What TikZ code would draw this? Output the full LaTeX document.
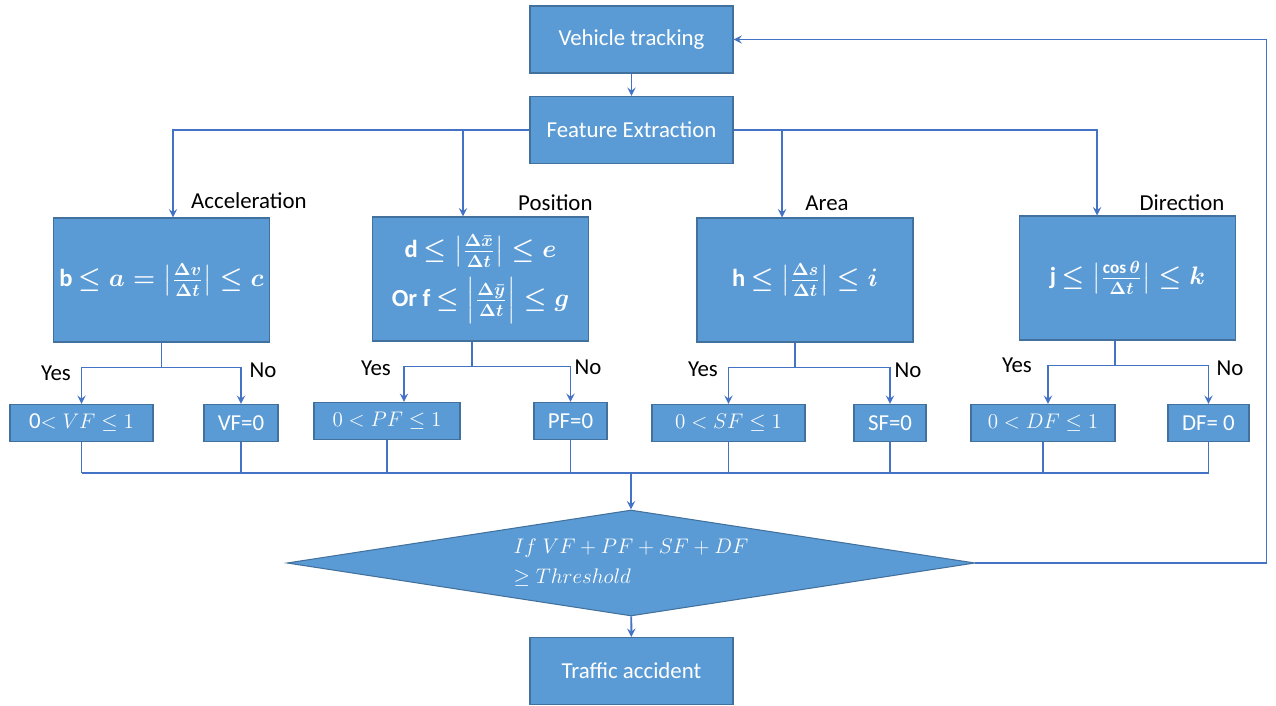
\documentclass[tikz,border=0pt]{standalone}
\usepackage{fontspec}
\setmainfont{Carlito}
\usepackage{amsmath}
\usetikzlibrary{arrows,shapes.geometric}

\definecolor{boxblue}{RGB}{91,155,213}
\definecolor{boxedge}{RGB}{65,113,156}
\definecolor{linkblue}{RGB}{68,114,196}

% |num/den| as printed in the test boxes
\newcommand{\ratio}[2]{\left|\frac{#1}{#2}\right|}

\tikzset{
    box/.style={rectangle, draw=boxedge, fill=boxblue, text=white, line width=0.6pt,
        inner sep=2pt, font=\fontsize{13}{16}\selectfont},
    stage/.style={box, minimum width=4.06cm, minimum height=1.34cm},
    test/.style={box, minimum width=4.32cm, minimum height=2.48cm, align=center,
        font=\fontsize{14}{28}\selectfont\bfseries\boldmath},
    score/.style={box, minimum height=0.74cm},
    cond/.style={diamond, draw=boxedge, fill=boxblue, text=white, line width=0.6pt,
        minimum width=13.76cm, minimum height=2.12cm, aspect=6.5, inner sep=0pt,
        align=left, font=\fontsize{13}{17}\selectfont},
    lbl/.style={font=\fontsize{13}{16}\selectfont},
    link/.style={draw=linkblue, line width=1.1pt},
    arr/.style={link, -stealth},
}

\begin{document}
\begin{tikzpicture}[x=0.02cm, y={(0cm,-0.02cm)}]
\useasboundingbox (0,0) rectangle (1276,706);

% main chain
\node[stage] (vt) at (631.5,39.5) {Vehicle tracking};
\node[stage] (fe) at (631.5,130) {Feature Extraction};

% feature tests
\node[test] (b1) at (161.5,280) {b $\leq a=\ratio{\Delta v}{\Delta t}\leq c$};
\node[test] (b2) at (480.5,279) {d $\leq\ratio{\Delta\bar{x}}{\Delta t}\leq e$\\
    Or f $\leq\ratio{\Delta\bar{y}}{\Delta t}\leq g$};
\node[test] (b3) at (805,280) {h $\leq\ratio{\Delta s}{\Delta t}\leq i$};
\node[test] (b4) at (1127.5,278) {j $\leq\ratio{\cos\theta}{\Delta t}\leq k$};

\node[lbl, anchor=west] (lacc) at (185,201) {Acceleration};
\node[lbl, anchor=west] (lpos) at (512,203) {Position};
\node[lbl] (lare) at (827,203) {Area};
\node[lbl] (ldir) at (1182,203) {Direction};

% scores
\node[score, minimum width=2.86cm] (y1) at (81.5,423) {0$<VF\leq 1$};
\node[score, minimum width=1.48cm] (n1) at (241,423) {VF=0};
\node[score, minimum width=2.92cm] (y2) at (387,421) {$0<PF\leq 1$};
\node[score, minimum width=1.46cm] (n2) at (570.5,421) {PF=0};
\node[score, minimum width=3.06cm] (y3) at (728.5,423) {$0<SF\leq 1$};
\node[score, minimum width=1.44cm] (n3) at (890,423) {SF=0};
\node[score, minimum width=2.88cm] (y4) at (1043,423) {$0<DF\leq 1$};
\node[score, minimum width=1.62cm] (n4) at (1208.5,423) {DF= 0};

\node[lbl] (ly1) at (56,373) {Yes};
\node[lbl] (ln1) at (263,370) {No};
\node[lbl] (ly2) at (376,368) {Yes};
\node[lbl] (ln2) at (588,367) {No};
\node[lbl] (ly3) at (703,369) {Yes};
\node[lbl] (ln3) at (908,370) {No};
\node[lbl] (ly4) at (1017,365) {Yes};
\node[lbl] (ln4) at (1230,368) {No};

% decision
\node[cond] (th) at (631,563) {$If\;VF+PF+SF+DF$\\$\geq Threshold$};
\node[stage] (ta) at (631.5,671) {Traffic accident};

% connectors
\coordinate (t1) at ([xshift=0.23cm]b1.north);
\coordinate (t2) at ([xshift=-0.35cm]b2.north);
\coordinate (t3) at ([xshift=-0.46cm]b3.north);
\coordinate (t4) at ([xshift=-0.61cm]b4.north);
\coordinate (bus) at (631,473);

\draw[arr] (vt) -- (fe);
\draw[arr] (fe.west) -| (t1);
\draw[arr] (fe.west -| t2) -- (t2);
\draw[arr] (fe.east -| t3) -- (t3);
\draw[arr] (fe.east) -| (t4);

\foreach \i/\s/\t in {1/0/0, 2/-8.5/17, 3/-10/0, 4/-12.5/5} {
    \draw[link] ([xshift=\s*0.02cm]b\i.south) -- ++(0,25) coordinate (j\i);
    \draw[arr] (j\i) -| ([xshift=\t*0.02cm]y\i.north);
    \draw[arr] (j\i) -| (n\i.north);
}

\foreach \n in {y1,n1,y2,n2,y3,n3,y4,n4}
    \draw[link] (\n.south) -- (\n.south |- bus);
\draw[link] (y1.south |- bus) -- (n4.south |- bus);
\draw[arr] (bus) -- (th.north);
\draw[arr] (th) -- (ta);
\draw[arr] (th.east) -- ++(291,0) |- (vt.east);
\end{tikzpicture}
\end{document}
